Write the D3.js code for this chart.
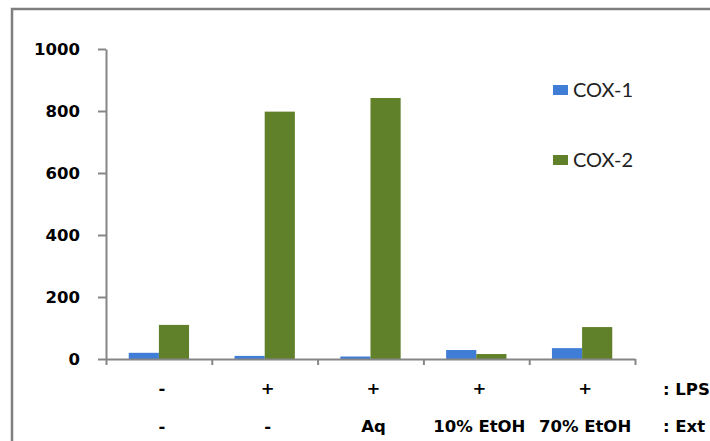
<!DOCTYPE html>
<html><head><meta charset="utf-8">
<script src="https://cdn.jsdelivr.net/npm/d3@7"></script>
<style>body{margin:0;background:#fff}svg{display:block}</style>
</head><body><svg id="c" width="710" height="441"></svg>
<script>
const lpsLabels = ["-", "+", "+", "+", "+"];
const extLabels = ["-", "-", "Aq", "10% EtOH", "70% EtOH"];
const seriesNames = ["COX-1", "COX-2"];
const cox1 = [20, 10, 8, 29, 35];
const cox2 = [110, 798, 842, 16, 103];
const yTicks = [0, 200, 400, 600, 800, 1000];
const colors = ["#3f7dd6", "#61802a"];

const svg = d3.select("#c");
const L = 106, R = 635, T = 49, B = 359;

svg.append("rect").attr("x", 12).attr("y", 9).attr("width", 720).attr("height", 460)
  .attr("fill", "none").attr("stroke", "#7f7f7f").attr("stroke-width", 2.5);

const cats = d3.range(lpsLabels.length);
const x = d3.scaleBand().domain(cats).range([L, R]).paddingInner(0.43).paddingOuter(0.215);
const xs = d3.scaleBand().domain([0, 1]).range([0, x.bandwidth()]);
const y = d3.scaleLinear().domain([0, 1000]).range([B, T]);
const xl = d3.scaleLinear().domain([0, 5]).range([L, R]);

const series = [cox1, cox2];
series.forEach((vals, si) => {
  svg.append("g").selectAll("rect").data(vals).join("rect")
    .attr("x", (d, i) => x(i) + xs(si))
    .attr("y", d => y(d))
    .attr("width", xs.bandwidth())
    .attr("height", d => B - y(d))
    .attr("fill", colors[si]);
});

const ya = svg.append("g").attr("transform", `translate(${L},0)`)
  .call(d3.axisLeft(y).tickValues(yTicks).tickFormat(d3.format("d")).tickSize(8).tickPadding(18).tickSizeOuter(0));
ya.select(".domain").attr("stroke", "#868686").attr("stroke-width", 2);
ya.selectAll(".tick line").attr("stroke", "#868686").attr("stroke-width", 2);
ya.selectAll(".tick text").attr("font-family", "DejaVu Sans").attr("font-weight", "bold")
  .attr("font-size", 16.5).attr("fill", "#000");

const xa = svg.append("g").attr("transform", `translate(0,${B})`)
  .call(d3.axisBottom(xl).tickValues(d3.range(6)).tickSize(6).tickFormat("").tickSizeOuter(0));
xa.select(".domain").attr("stroke", "#868686").attr("stroke-width", 2);
xa.selectAll(".tick line").attr("stroke", "#868686").attr("stroke-width", 2);

const lab = svg.append("g").attr("font-family", "DejaVu Sans").attr("font-weight", "bold")
  .attr("font-size", 16.5).attr("fill", "#000").attr("text-anchor", "middle");
lab.selectAll(".r1").data(lpsLabels).join("text").attr("class", "r1")
  .attr("x", (d, i) => x(i) + x.bandwidth() / 2 + 3).attr("y", 394).text(d => d);
lab.selectAll(".r2").data(extLabels).join("text").attr("class", "r2")
  .attr("x", (d, i) => x(i) + x.bandwidth() / 2 + 3).attr("y", 432).text(d => d);
lab.append("text").attr("x", 663).attr("y", 395).attr("text-anchor", "start").text(": LPS");
lab.append("text").attr("x", 663).attr("y", 432).attr("text-anchor", "start").text(": Ext");

const leg = svg.append("g");
const legY = [85, 155];
seriesNames.forEach((n, i) => {
  leg.append("rect").attr("x", 553).attr("y", legY[i]).attr("width", 15).attr("height", 10).attr("fill", colors[i]);
  leg.append("text").attr("x", 573).attr("y", legY[i] + 12).attr("font-family", "Lato")
    .attr("font-size", 20).attr("fill", "#222").text(n);
});
</script></body></html>
